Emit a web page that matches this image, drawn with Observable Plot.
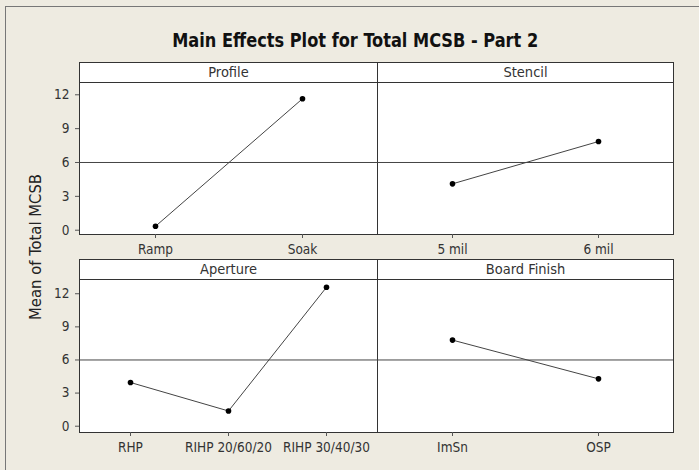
<!DOCTYPE html>
<html>
<head>
<meta charset="utf-8">
<script src="https://cdn.jsdelivr.net/npm/d3@7"></script>
<script src="https://cdn.jsdelivr.net/npm/@observablehq/plot@0.6"></script>
<style>
  html, body { margin: 0; padding: 0; background: #eeebe1; }
  #chart { position: relative; width: 699px; height: 470px; overflow: hidden; background: #eeebe1;
    font-family: "DejaVu Sans Condensed", "DejaVu Sans", sans-serif; font-stretch: condensed; color: #222; }
  #frame { position: absolute; left: 5px; top: 6px; width: 760px; height: 520px;
    border-left: 1px solid #777; border-top: 1px solid #777; }
  #title { position: absolute; left: 0; top: 31px; width: 710px; text-align: center;
    font-weight: bold; font-size: 19px; line-height: 19px; color: #111; white-space: nowrap; }
  #title span { display: inline-block; transform-origin: 50% 50%; }
  #ylabel { position: absolute; left: -64px; top: 237px; width: 200px; height: 20px; line-height: 20px;
    text-align: center; font-size: 16.5px; transform: rotate(-90deg); color: #222; white-space: nowrap; }
  .panel { position: absolute; box-sizing: border-box; border: 1px solid #333; background: #fff; }
  .header { box-sizing: content-box; height: 19px; line-height: 19px; border-bottom: 1px solid #333;
    text-align: center; font-size: 14.5px; color: #333; }
  .plotwrap { position: absolute; }
  .plotwrap svg { overflow: visible; }
</style>
</head>
<body>
<div id="chart">
  <div id="frame"></div>
  <div id="title"><span>Main Effects Plot for Total MCSB - Part 2</span></div>
  <div id="ylabel">Mean of Total MCSB</div>
</div>
<script>
// ---- Data ----
const profileLevels = ["Ramp", "Soak"];
const profileMeans = [0.35, 11.65];
const stencilLevels = ["5 mil", "6 mil"];
const stencilMeans = [4.11, 7.86];
const apertureLevels = ["RHP", "RIHP 20/60/20", "RIHP 30/40/30"];
const apertureMeans = [3.96, 1.38, 12.59];
const finishLevels = ["ImSn", "OSP"];
const finishMeans = [7.80, 4.29];
const overallMean = 6.0;
const yTicks = [0, 3, 6, 9, 12];

// ---- Layout ----
const cols = [{x0: 79, x1: 377}, {x0: 377, x1: 673}];
const rows = [
  {top: 62, plotTop: 83, plotBottom: 234, domain: [-0.38, 13.0]},
  {top: 259, plotTop: 280, plotBottom: 432, domain: [-0.57, 13.2]}
];

const panels = [
  {name: "Profile", levels: profileLevels, means: profileMeans, row: 0, col: 0, pad: 0.51},
  {name: "Stencil", levels: stencilLevels, means: stencilMeans, row: 0, col: 1, pad: 0.51},
  {name: "Aperture", levels: apertureLevels, means: apertureMeans, row: 1, col: 0, pad: 0.52},
  {name: "Board Finish", levels: finishLevels, means: finishMeans, row: 1, col: 1, pad: 0.51}
];

const chart = document.getElementById("chart");

for (const p of panels) {
  const c = cols[p.col], r = rows[p.row];
  const box = document.createElement("div");
  box.className = "panel";
  box.style.left = c.x0 + "px";
  box.style.top = r.top + "px";
  box.style.width = (c.x1 - c.x0 + 1) + "px";
  box.style.height = (r.plotBottom - r.top + 1) + "px";
  const hdr = document.createElement("div");
  hdr.className = "header";
  hdr.textContent = p.name;
  box.appendChild(hdr);
  chart.appendChild(box);

  const data = p.levels.map((lv, i) => ({level: lv, mean: p.means[i]}));
  const mL = p.col === 0 ? 45 : 10, mR = 10, mB = 32;
  const plotW = c.x1 - c.x0;
  const plotH = r.plotBottom - r.plotTop;
  const marks = [
    Plot.ruleY([overallMean], {stroke: "#444", strokeWidth: 1}),
    Plot.line(data, {x: "level", y: "mean", stroke: "#444", strokeWidth: 1}),
    Plot.dot(data, {x: "level", y: "mean", r: 2.8, fill: "#000", stroke: "none"}),
    Plot.axisX({tickSize: 4, tickPadding: 6, label: null, stroke: "#555", fill: "#333"})
  ];
  if (p.col === 0) {
    marks.push(Plot.axisY({ticks: yTicks, tickSize: 4, tickPadding: 6, label: null, stroke: "#555", fill: "#333"}));
  }
  const svg = Plot.plot({
    width: mL + plotW + mR,
    height: plotH + mB,
    marginLeft: mL, marginRight: mR, marginTop: 0, marginBottom: mB,
    x: {type: "point", domain: p.levels, padding: p.pad, axis: null},
    y: {domain: r.domain, axis: null},
    style: {background: "transparent", fontSize: "13.5px",
      fontFamily: '"DejaVu Sans Condensed", "DejaVu Sans", sans-serif', color: "#333", overflow: "visible"},
    marks
  });
  svg.style.fontStretch = "condensed";
  const wrap = document.createElement("div");
  wrap.className = "plotwrap";
  wrap.style.left = (c.x0 - mL) + "px";
  wrap.style.top = r.plotTop + "px";
  wrap.appendChild(svg);
  chart.appendChild(wrap);
}

// fit title width to the reference
const tspan = document.querySelector("#title span");
const w = tspan.getBoundingClientRect().width;
if (w > 0) tspan.style.transform = `scaleX(${366 / w})`;
</script>
</body>
</html>
